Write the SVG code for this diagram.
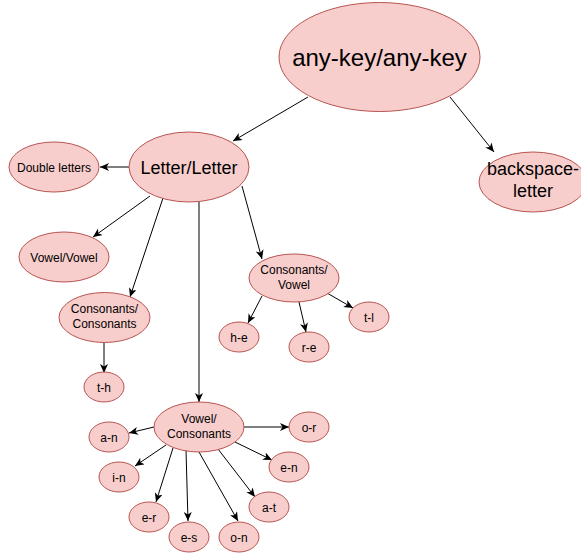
<svg xmlns="http://www.w3.org/2000/svg" width="581" height="553" viewBox="0 0 581 553">
<style>
.n ellipse{fill:#f8cecc;stroke:#b85450;stroke-width:1}
text{font-family:"Liberation Sans",Arial,sans-serif;fill:#000;text-anchor:middle}
.s{font-size:12px}
.e line{stroke:#000;stroke-width:1;marker-end:url(#a)}
</style>
<defs>
<marker id="a" markerUnits="userSpaceOnUse" markerWidth="10" markerHeight="10" refX="9" refY="4" orient="auto">
<path d="M0,0 L9,4 L0,8 L2.5,4 Z" fill="#000"/>
</marker>
</defs>
<g class="e" id="connectors">
<line x1="308" y1="97" x2="233" y2="141"/>
<line x1="450" y1="97" x2="494" y2="152"/>
<line x1="129" y1="167" x2="100" y2="167"/>
<line x1="150" y1="196" x2="93" y2="237"/>
<line x1="163" y1="198" x2="130" y2="297"/>
<line x1="199" y1="202" x2="199" y2="402"/>
<line x1="242" y1="186" x2="262" y2="259"/>
<line x1="262" y1="296" x2="248" y2="323"/>
<line x1="299" y1="302" x2="306" y2="332"/>
<line x1="327" y1="293" x2="353" y2="308"/>
<line x1="104" y1="342" x2="104" y2="373"/>
<line x1="154" y1="427" x2="129" y2="433"/>
<line x1="244" y1="427" x2="289" y2="427"/>
<line x1="166" y1="445" x2="135" y2="466"/>
<line x1="173" y1="448" x2="156" y2="502"/>
<line x1="186" y1="450" x2="188" y2="521"/>
<line x1="199" y1="452" x2="238" y2="521"/>
<line x1="218" y1="449" x2="255" y2="497"/>
<line x1="235" y1="442" x2="272" y2="460"/>
</g>
<g class="n" id="anykey"><ellipse cx="379.5" cy="57" rx="100.5" ry="54.5"/><text x="379.5" y="65.5" font-size="24">any-key/any-key</text></g>
<g class="n" id="backspace"><ellipse cx="533" cy="182" rx="54" ry="30"/><text x="533" y="174.5" font-size="18">backspace-</text><text x="533" y="196.5" font-size="18">letter</text></g>
<g class="n" id="letter"><ellipse cx="189" cy="167" rx="60" ry="35"/><text x="189" y="173.5" font-size="18">Letter/Letter</text></g>
<g class="n" id="double"><ellipse cx="54" cy="167" rx="45" ry="25"/><text class="s" x="54" y="171.5">Double letters</text></g>
<g class="n" id="vowelvowel"><ellipse cx="64" cy="257" rx="45" ry="25"/><text class="s" x="64" y="261.5">Vowel/Vowel</text></g>
<g class="n" id="consvowel"><ellipse cx="294" cy="278" rx="45" ry="24"/><text class="s" x="294" y="273.5">Consonants/</text><text class="s" x="294" y="288.5">Vowel</text></g>
<g class="n" id="he"><ellipse cx="239" cy="337" rx="20" ry="15"/><text class="s" x="239" y="341.5">h-e</text></g>
<g class="n" id="re"><ellipse cx="309" cy="347" rx="20" ry="15"/><text class="s" x="309" y="351.5">r-e</text></g>
<g class="n" id="tl"><ellipse cx="369" cy="317" rx="20" ry="15"/><text class="s" x="369" y="321.5">t-l</text></g>
<g class="n" id="conscons"><ellipse cx="104.5" cy="317.5" rx="45.5" ry="25"/><text class="s" x="104.5" y="313">Consonants/</text><text class="s" x="104.5" y="328">Consonants</text></g>
<g class="n" id="th"><ellipse cx="104" cy="387" rx="20" ry="15"/><text class="s" x="104" y="391.5">t-h</text></g>
<g class="n" id="vowelcons"><ellipse cx="199" cy="427" rx="45" ry="25"/><text class="s" x="199" y="422.5">Vowel/</text><text class="s" x="199" y="437.5">Consonants</text></g>
<g class="n" id="an"><ellipse cx="109" cy="437" rx="20" ry="15"/><text class="s" x="109" y="441.5">a-n</text></g>
<g class="n" id="or"><ellipse cx="309" cy="427" rx="20" ry="15"/><text class="s" x="309" y="431.5">o-r</text></g>
<g class="n" id="in"><ellipse cx="119" cy="477" rx="20" ry="15"/><text class="s" x="119" y="481.5">i-n</text></g>
<g class="n" id="en"><ellipse cx="289" cy="467" rx="20" ry="15"/><text class="s" x="289" y="471.5">e-n</text></g>
<g class="n" id="er"><ellipse cx="149" cy="517" rx="20" ry="15"/><text class="s" x="149" y="521.5">e-r</text></g>
<g class="n" id="at"><ellipse cx="269" cy="507" rx="20" ry="15"/><text class="s" x="269" y="511.5">a-t</text></g>
<g class="n" id="es"><ellipse cx="189" cy="537" rx="20" ry="15"/><text class="s" x="189" y="541.5">e-s</text></g>
<g class="n" id="on"><ellipse cx="239" cy="537" rx="20" ry="15"/><text class="s" x="239" y="541.5">o-n</text></g>
</svg>
